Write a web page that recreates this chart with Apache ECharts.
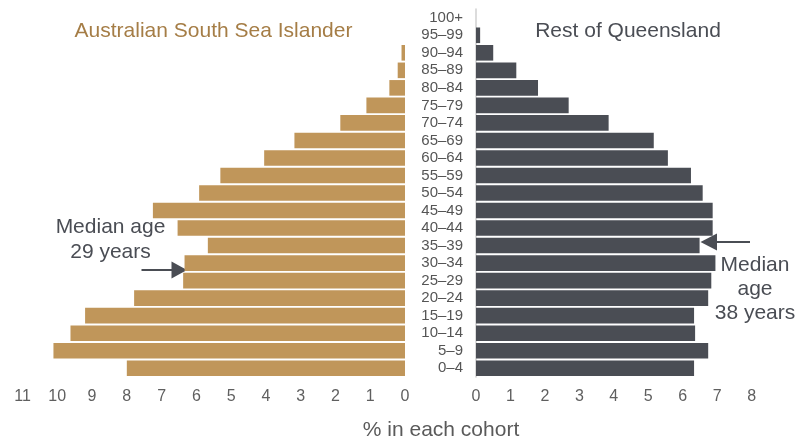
<!DOCTYPE html>
<html>
<head>
<meta charset="utf-8">
<script src="https://cdn.jsdelivr.net/npm/echarts@6/dist/echarts.min.js"></script>
<style>
html,body{margin:0;padding:0;background:#fff;}
#chart{width:811px;height:439px;}
</style>
</head>
<body>
<div id="chart"></div>
<script>
// Age cohorts, bottom (0–4) to top (100+)
var ageGroups = ['0–4','5–9','10–14','15–19','20–24','25–29','30–34','35–39','40–44','45–49','50–54','55–59','60–64','65–69','70–74','75–79','80–84','85–89','90–94','95–99','100+'];
// % in each cohort
var southSeaIslander = [8.0,10.11,9.62,9.2,7.79,6.38,6.34,5.67,6.54,7.25,5.92,5.31,4.05,3.18,1.86,1.11,0.45,0.21,0.1,0,0];
var restOfQueensland = [6.33,6.74,6.36,6.33,6.74,6.83,6.95,6.49,6.87,6.87,6.58,6.24,5.57,5.16,3.85,2.69,1.8,1.17,0.5,0.12,0];
var leftTicks = [0,1,2,3,4,5,6,7,8,9,10,11];
var rightTicks = [0,1,2,3,4,5,6,7,8];

var FONT = '"Liberation Sans", Arial, sans-serif';
var GOLD = '#C0965A';
var DARK = '#4A4D54';
var chart = echarts.init(document.getElementById('chart'));

chart.setOption({
  animation: false,
  textStyle: {fontFamily: FONT},
  grid: [
    {left: 22.5, right: 406, top: 9, bottom: 62},
    {left: 476, right: 59.4, top: 9, bottom: 62}
  ],
  xAxis: [
    {gridIndex: 0, type: 'value', inverse: true, min: leftTicks[0], max: leftTicks[leftTicks.length-1], interval: 1,
     splitLine: {show: false}, axisLine: {show: false}, axisTick: {show: false},
     axisLabel: {color: '#5f5f5f', fontSize: 16, margin: 12, fontFamily: FONT}},
    {gridIndex: 1, type: 'value', min: rightTicks[0], max: rightTicks[rightTicks.length-1], interval: 1,
     splitLine: {show: false}, axisLine: {show: false}, axisTick: {show: false},
     axisLabel: {color: '#5f5f5f', fontSize: 16, margin: 12, fontFamily: FONT}}
  ],
  yAxis: [
    {gridIndex: 0, type: 'category', data: ageGroups, position: 'right',
     axisLine: {show: false}, axisTick: {show: false}, axisLabel: {show: false}},
    {gridIndex: 1, type: 'category', data: ageGroups, position: 'left',
     axisLine: {show: true, lineStyle: {color: '#d0d0d0', width: 1.5}}, axisTick: {show: false},
     axisLabel: {interval: 0, color: '#555555', fontSize: 15, margin: 13, fontFamily: FONT, hideOverlap: false}}
  ],
  series: [
    {type: 'bar', xAxisIndex: 0, yAxisIndex: 0, data: southSeaIslander, barCategoryGap: '11%',
     itemStyle: {color: GOLD}},
    {type: 'bar', xAxisIndex: 1, yAxisIndex: 1, data: restOfQueensland, barCategoryGap: '11%',
     itemStyle: {color: DARK}}
  ],
  graphic: [
    {type: 'text', x: 213.5, y: 31, style: {text: 'Australian South Sea Islander', fill: '#A57D46', font: '21px ' + FONT, textAlign: 'center', textVerticalAlign: 'middle'}},
    {type: 'text', x: 628, y: 31, style: {text: 'Rest of Queensland', fill: DARK, font: '21px ' + FONT, textAlign: 'center', textVerticalAlign: 'middle'}},
    {type: 'text', x: 441, y: 430, style: {text: '% in each cohort', fill: '#5a5a5a', font: '21px ' + FONT, textAlign: 'center', textVerticalAlign: 'middle'}},
    {type: 'text', x: 110.5, y: 227, style: {text: 'Median age', fill: DARK, font: '21px ' + FONT, textAlign: 'center', textVerticalAlign: 'middle'}},
    {type: 'text', x: 110.5, y: 252, style: {text: '29 years', fill: DARK, font: '21px ' + FONT, textAlign: 'center', textVerticalAlign: 'middle'}},
    {type: 'text', x: 755, y: 265, style: {text: 'Median', fill: DARK, font: '21px ' + FONT, textAlign: 'center', textVerticalAlign: 'middle'}},
    {type: 'text', x: 755, y: 289, style: {text: 'age', fill: DARK, font: '21px ' + FONT, textAlign: 'center', textVerticalAlign: 'middle'}},
    {type: 'text', x: 755, y: 313, style: {text: '38 years', fill: DARK, font: '21px ' + FONT, textAlign: 'center', textVerticalAlign: 'middle'}},
    {type: 'line', shape: {x1: 141.5, y1: 270, x2: 174, y2: 270}, style: {stroke: DARK, lineWidth: 2}},
    {type: 'polygon', shape: {points: [[171.5, 261.5], [187, 270], [171.5, 278.5]]}, style: {fill: DARK}},
    {type: 'line', shape: {x1: 750, y1: 242, x2: 714, y2: 242}, style: {stroke: DARK, lineWidth: 2}},
    {type: 'polygon', shape: {points: [[717, 233.5], [700.5, 242], [717, 250.5]]}, style: {fill: DARK}}
  ]
});
</script>
</body>
</html>
